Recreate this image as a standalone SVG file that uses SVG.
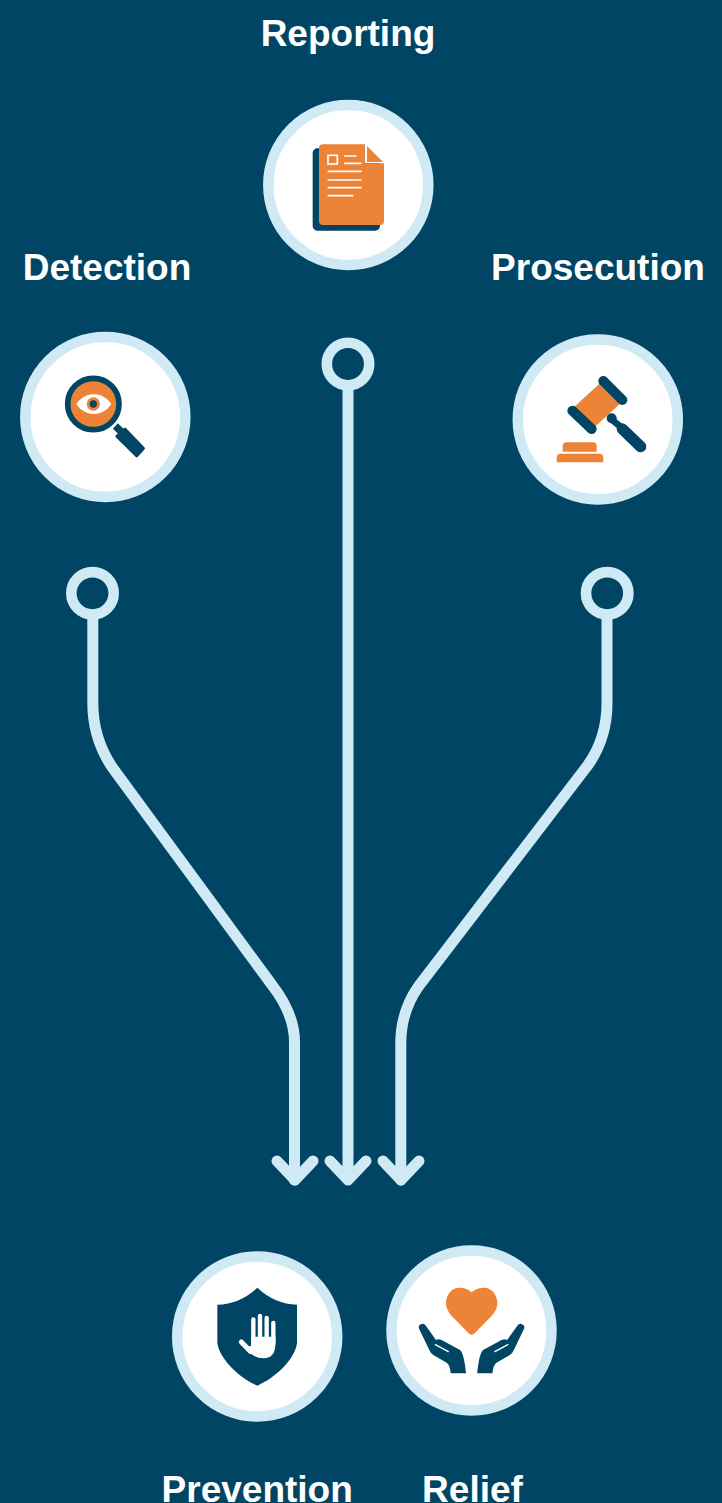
<svg xmlns="http://www.w3.org/2000/svg" width="722" height="1503" viewBox="0 0 722 1503">
<style>
.bg{fill:#004664}
.disc{fill:#fff;stroke:#d0eaf5;stroke-width:10.5}
.lbl{font-family:"Liberation Sans",Arial,sans-serif;font-weight:700;font-size:37px;fill:#fff;text-anchor:middle}
.c{fill:none;stroke:#d0eaf5;stroke-width:11;stroke-linecap:round;stroke-linejoin:round}
.r{fill:none;stroke:#d0eaf5;stroke-width:10.6}
.o{fill:#ec8336}
.d{fill:#004664}
.dl{fill:none;stroke:#004664;stroke-linecap:round}
.wl{fill:none;stroke:#fff;stroke-linecap:round}
</style>
<defs>
<g id="hand">
<path class="d" d="M118 268Q112 256 125 252Q133 250 138 258L168 300Q175 295 185 300L240 330Q252 340 258 400H212Q210 375 200 368L160 345Q152 340 148 330Z"/>
<path class="wl" stroke-width="4" d="M166 314L205 335"/>
</g>
</defs>
<rect class="bg" width="722" height="1503"/>
<g id="connectors">
<circle class="r" cx="348" cy="364" r="21.200"/>
<path class="c" d="M348 386V1180M277 1161L295 1180L313 1161M330 1161L348 1180L366 1161M383 1161L401 1180L419 1161"/>
<circle class="r" cx="92.500" cy="593.300" r="21.200"/>
<path class="c" d="M92.800 615V703Q92.800 738 112 767L272 985Q294.500 1014 294.500 1042V1180"/>
<circle class="r" cx="607.200" cy="593.300" r="21.200"/>
<path class="c" d="M607 615V703Q607 738 588 765L418.300 986.700Q400.800 1012 400.800 1043V1180"/>
</g>
<g id="reporting">
<circle class="disc" cx="348.300" cy="185" r="80"/>
<g transform="translate(255 90) scale(.33333)">
<path class="d" d="M187 175H330V220H375V408a14 14 0 0 1-14 14H187a14 14 0 0 1-14-14V189a14 14 0 0 1 14-14Z"/>
<path class="o" d="M204 163H330V220H387V393a12 12 0 0 1-12 12H204a12 12 0 0 1-12-12V175a12 12 0 0 1 12-12Z"/>
<path class="o" d="M336 168L384 216H336Z"/>
<g class="wl" stroke-width="5" style="stroke-linecap:butt">
<rect x="219" y="196" width="28" height="26"/>
<path d="M267 198H305M267 220H320M218 244H320M218 270H320M218 293H320M218 317H295"/>
</g>
</g>
<text class="lbl" x="348" y="46">Reporting</text>
</g>
<g id="detection">
<circle class="disc" cx="105.300" cy="417" r="80"/>
<g transform="translate(10 325) scale(.33333)">
<path class="dl" stroke-width="22" style="stroke-linecap:butt" d="M316 303L336 322"/>
<path class="d" stroke="#004664" stroke-width="8" stroke-linejoin="round" d="M320 334L345 312L401 370L380 393Z"/>
<circle class="o" cx="250" cy="237" r="77"/>
<circle cx="250" cy="237" r="77" fill="none" stroke="#004664" stroke-width="17"/>
<path fill="#fff" d="M199 237C225 198 278 198 304 237C278 277 225 277 199 237Z"/>
<circle class="o" cx="250" cy="237" r="20"/>
<circle class="d" cx="250" cy="237" r="11"/>
</g>
<text class="lbl" x="107" y="280">Detection</text>
</g>
<g id="prosecution">
<circle class="disc" cx="597.800" cy="419.500" r="80"/>
<g transform="translate(505 325) scale(.33333)">
<path class="o" d="M290 170L350 232L270 305L208 245Z"/>
<path class="dl" stroke-width="30" d="M295 168L352 225M202 257L260 312"/>
<path class="dl" stroke-width="20" d="M318 282L350 308"/>
<circle class="d" cx="320" cy="280" r="15"/>
<path class="dl" stroke-width="34" d="M352 312L407 365"/>
<path class="o" d="M185 352H263a12 12 0 0 1 12 12V380H173V364a12 12 0 0 1 12-12Z"/>
<path class="o" d="M167 386H283a12 12 0 0 1 12 12V412H155V398a12 12 0 0 1 12-12Z"/>
</g>
<text class="lbl" x="598" y="280">Prosecution</text>
</g>
<g id="prevention">
<circle class="disc" cx="257.200" cy="1336.500" r="80"/>
<g transform="translate(165 1240) scale(.33333)">
<path class="d" d="M277 143Q225 192 157 194V310C165 360 225 415 277 437C329 415 389 360 396 310V194Q329 192 277 143Z"/>
<g class="wl" stroke-width="13">
<path d="M265 238V310M285 228V310M305 234V310M325 249V310"/>
<path stroke-width="15" d="M229 306L256 334"/>
</g>
<path fill="#fff" d="M258.500 290H331.500V310C331 340 320 355 295 355Q270 355 252 335L240 322L258 318Z"/>
</g>
<text class="lbl" x="257.200" y="1502">Prevention</text>
</g>
<g id="relief">
<circle class="disc" cx="471.500" cy="1330.500" r="80"/>
<g transform="translate(380 1240) scale(.33333)">
<path class="o" d="M275 157C262 145 248 143 238 143C215 143 198 165 198 188C198 210 212 225 225 238L265 279Q275 289 285 279L325 238C338 225 352 210 352 188C352 165 335 143 312 143C302 143 288 145 275 157Z"/>
<use href="#hand"/>
<use href="#hand" transform="matrix(-1 0 0 1 549.500 0)"/>
</g>
<text class="lbl" x="472.500" y="1502">Relief</text>
</g>
</svg>
